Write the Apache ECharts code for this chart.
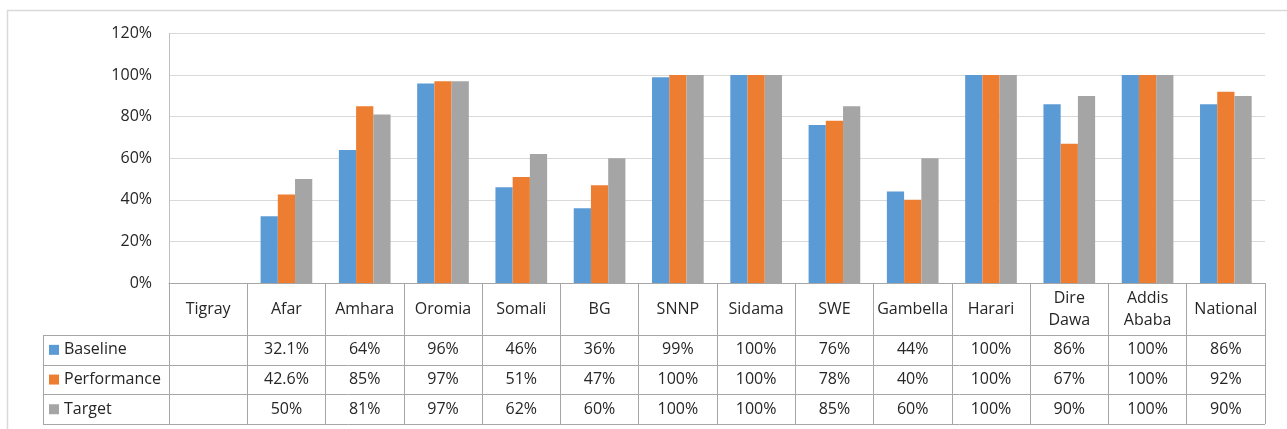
<!DOCTYPE html>
<html>
<head>
<meta charset="utf-8">
<script src="https://cdn.jsdelivr.net/npm/echarts@6/dist/echarts.min.js"></script>
<style>
  html, body { margin: 0; padding: 0; background: #fff; }
  #chart { width: 1287px; height: 429px; }
</style>
</head>
<body>
<div id="chart"></div>
<script>
// Regional coverage: baseline, performance and target (%)
const regions = ['Tigray', 'Afar', 'Amhara', 'Oromia', 'Somali', 'BG', 'SNNP', 'Sidama', 'SWE', 'Gambella', 'Harari', 'Dire Dawa', 'Addis Ababa', 'National'];
const baseline    = [null, 32.1, 64, 96, 46, 36, 99, 100, 76, 44, 100, 86, 100, 86];
const performance = [null, 42.6, 85, 97, 51, 47, 100, 100, 78, 40, 100, 67, 100, 92];
const target      = [null, 50, 81, 97, 62, 60, 100, 100, 85, 60, 100, 90, 100, 90];
const seriesNames = ['Baseline', 'Performance', 'Target'];
const yMax = 120;
const yStep = 20;

const rows = [
  { name: seriesNames[0], data: baseline,    color: '#5B9BD5' },
  { name: seriesNames[1], data: performance, color: '#ED7D31' },
  { name: seriesNames[2], data: target,      color: '#A5A5A5' }
];

// Layout
const W = 1287, H = 429;
const FONT = 'Open Sans';
const TEXT = '#262626';
const RULE = '#a6a6a6';
const plot = { left: 169, right: 22, top: 33.5, bottom: 146 };
const axisY = H - plot.bottom;      // baseline of the plot / top of data table
const headH = 52;                   // height of the category-name row
const rowH = 29.7;                  // height of each value row
const tableLeft = 43;
const tableRight = W - plot.right;

const chart = echarts.init(document.getElementById('chart'), null, { renderer: 'canvas' });

const labelBase = { fontFamily: FONT, fontSize: 16, color: TEXT, interval: 0, verticalAlign: 'middle' };

const xAxes = [{
  type: 'category',
  data: regions,
  position: 'bottom',
  axisLine: { show: true, lineStyle: { color: RULE, width: 1 } },
  axisTick: { show: true, interval: 0, length: headH + rows.length * rowH, lineStyle: { color: RULE } },
  splitLine: { show: false },
  axisLabel: Object.assign({}, labelBase, {
    margin: headH / 2,
    lineHeight: 22,
    formatter: v => v.replace(' ', '\n')
  })
}];

rows.forEach((r, i) => {
  xAxes.push({
    type: 'category',
    data: regions,
    position: 'bottom',
    offset: headH + i * rowH,
    axisLine: { show: false },
    axisTick: { show: false },
    splitLine: { show: false },
    axisLabel: Object.assign({}, labelBase, {
      margin: rowH / 2,
      formatter: (v, idx) => (r.data[idx] == null ? '' : r.data[idx] + '%')
    })
  });
});

// Table rules and row headers
const graphics = [{
  type: 'rect',
  shape: { x: 7.5, y: 10.5, width: W + 10, height: H + 10 },
  style: { fill: 'none', stroke: '#d9d9d9', lineWidth: 1.5 },
  silent: true
}];
for (let k = 0; k <= rows.length; k++) {
  const y = Math.round(axisY + headH + k * rowH) + 0.5;
  graphics.push({
    type: 'line',
    shape: { x1: tableLeft, y1: y, x2: tableRight, y2: y },
    style: { stroke: RULE, lineWidth: 1 },
    silent: true
  });
}
graphics.push({
  type: 'line',
  shape: { x1: tableLeft + 0.5, y1: axisY + headH, x2: tableLeft + 0.5, y2: axisY + headH + rows.length * rowH },
  style: { stroke: RULE, lineWidth: 1 },
  silent: true
});
rows.forEach((r, i) => {
  const cy = axisY + headH + i * rowH + rowH / 2;
  graphics.push({
    type: 'rect',
    shape: { x: 49, y: cy - 5, width: 10, height: 10 },
    style: { fill: r.color },
    silent: true
  });
  graphics.push({
    type: 'text',
    x: 64, y: cy,
    style: { text: r.name, fontFamily: FONT, fontSize: 16, fill: TEXT, verticalAlign: 'middle', align: 'left' },
    silent: true
  });
});

chart.setOption({
  animation: false,
  backgroundColor: '#fff',
  grid: {
    left: plot.left, right: plot.right, top: plot.top, bottom: plot.bottom,
    outerBoundsMode: 'none'
  },
  xAxis: xAxes,
  yAxis: {
    type: 'value',
    min: 0, max: yMax, interval: yStep,
    axisLine: { show: true, lineStyle: { color: '#bfbfbf' } },
    axisTick: { show: false },
    splitLine: { show: true, lineStyle: { color: '#d9d9d9', width: 1 } },
    axisLabel: { fontFamily: FONT, fontSize: 16, color: TEXT, margin: 17, formatter: '{value}%' }
  },
  series: rows.map(r => ({
    type: 'bar',
    name: r.name,
    data: r.data,
    xAxisIndex: 0,
    barGap: '0%',
    barCategoryGap: '34%',
    itemStyle: { color: r.color }
  })),
  graphic: graphics
});
</script>
</body>
</html>
